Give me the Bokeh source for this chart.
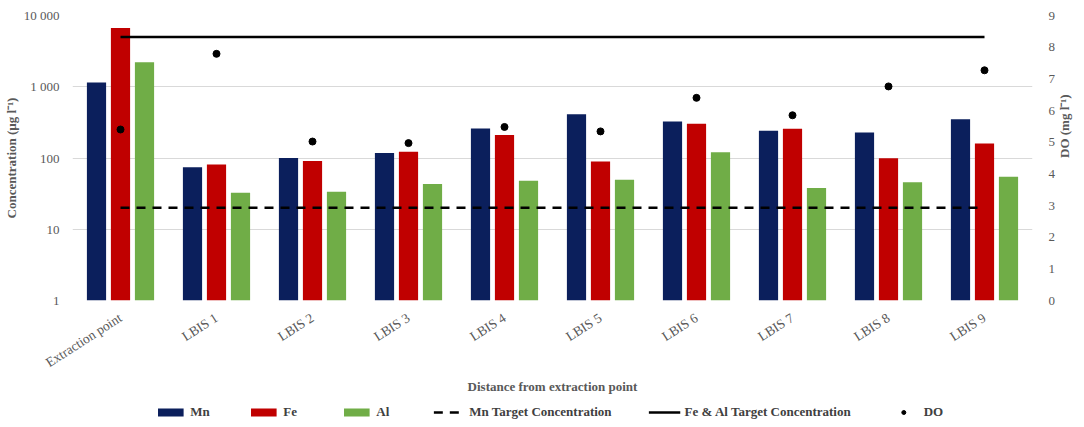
import math
from bokeh.plotting import figure
from bokeh.layouts import column
from bokeh.models import (FactorRange, Range1d, LinearAxis, FixedTicker, Legend,
                          LegendItem, ColumnDataSource, LinearScale)
from bokeh.transform import dodge
from bokeh.embed import file_html
from bokeh.resources import INLINE

categories = ["Extraction point", "LBIS 1", "LBIS 2", "LBIS 3", "LBIS 4",
              "LBIS 5", "LBIS 6", "LBIS 7", "LBIS 8", "LBIS 9"]
mn = [1150, 74, 100, 118, 259, 412, 325, 241, 228, 351]
fe = [6700, 81, 91, 122, 211, 89, 302, 257, 99, 160]
al = [2200, 32.5, 33.5, 43, 48, 49.5, 120, 38, 45.7, 54.5]
do_vals = [5.40, 7.79, 5.02, 4.97, 5.48, 5.34, 6.40, 5.85, 6.76, 7.27]
mn_target = 20
fe_al_target = 5000
conc_ticks = [1, 10, 100, 1000, 10000]
conc_tick_labels = ["1", "10", "100", "1 000", "10 000"]
do_ticks = [0, 1, 2, 3, 4, 5, 6, 7, 8, 9]
legend_labels = ["Mn", "Fe", "Al", "Mn Target Concentration",
                 "Fe & Al Target Concentration", "DO"]

FONT = "Liberation Serif"
GRAY = "#595959"
C_MN = "#0B1F5C"
C_FE = "#C00000"
C_AL = "#70AD47"
DASH = "9 7"

src = ColumnDataSource(dict(cat=categories, mn=mn, fe=fe, al=al, do=do_vals,
                            base=[1] * len(categories)))

p = figure(frame_width=960, frame_height=285, x_range=FactorRange(*categories),
           y_axis_type="log", y_range=Range1d(conc_ticks[0], conc_ticks[-1]),
           output_backend="svg", toolbar_location=None,
           min_border_left=60, min_border_right=30, min_border_top=15,
           min_border_bottom=10)
p.extra_y_ranges = {"do": Range1d(do_ticks[0], do_ticks[-1])}
p.extra_y_scales = {"do": LinearScale()}
p.outline_line_color = None
p.background_fill_color = "white"

p.vbar(x=dodge("cat", -0.25, range=p.x_range), top="mn", bottom="base",
       width=0.2, source=src, fill_color=C_MN, line_color=None)
p.vbar(x=dodge("cat", 0.0, range=p.x_range), top="fe", bottom="base",
       width=0.2, source=src, fill_color=C_FE, line_color=None)
p.vbar(x=dodge("cat", 0.25, range=p.x_range), top="al", bottom="base",
       width=0.2, source=src, fill_color=C_AL, line_color=None)

p.line(x=[categories[0], categories[-1]], y=[mn_target, mn_target],
       line_color="black", line_width=2.5, line_dash=DASH)
p.line(x=[categories[0], categories[-1]], y=[fe_al_target, fe_al_target],
       line_color="black", line_width=2.5)
p.scatter(x="cat", y="do", source=src, y_range_name="do", size=7,
          fill_color="black", line_color="black")

# left axis
ya = p.yaxis[0]
ya.ticker = FixedTicker(ticks=conc_ticks)
ya.major_label_overrides = {t: l for t, l in zip(conc_ticks, conc_tick_labels)}
ya.axis_label = "Concentration (µg l⁻¹)"

# right axis
ra = LinearAxis(y_range_name="do", ticker=FixedTicker(ticks=do_ticks),
                axis_label="DO (mg l⁻¹)")
p.add_layout(ra, "right")
ra.axis_label_orientation = math.pi / 2

xa = p.xaxis[0]
xa.axis_label = "Distance from extraction point"
xa.major_label_orientation = math.pi / 5.5

for ax in [ya, ra, xa]:
    ax.axis_line_color = None
    ax.major_tick_line_color = None
    ax.minor_tick_line_color = None
    ax.major_label_text_font = FONT
    ax.major_label_text_font_size = "13px"
    ax.major_label_text_color = GRAY
    ax.axis_label_text_font = FONT
    ax.axis_label_text_font_size = "13px"
    ax.axis_label_text_font_style = "bold"
    ax.axis_label_text_color = GRAY
xa.major_label_text_font_size = "13.5px"
ya.major_label_standoff = 7
ra.major_label_standoff = 10
xa.major_label_standoff = 10
xa.axis_label_standoff = 0
ya.axis_label_standoff = 2
ra.axis_label_standoff = 6

p.xgrid.grid_line_color = None
p.ygrid.grid_line_color = "#D9D9D9"
p.ygrid.grid_line_width = 1
p.ygrid.ticker = FixedTicker(ticks=conc_ticks)

# legend strip (separate small figure below the chart); its sample glyphs
# lie outside the strip's visible ranges, so only the legend shows
lg = figure(width=1076, height=30, x_range=Range1d(0, 1), y_range=Range1d(0, 1),
            output_backend="svg", toolbar_location=None, min_border=0)
lg.axis.visible = False
lg.grid.grid_line_color = None
lg.outline_line_color = None
off = ColumnDataSource(dict(x=[-10, -9], y=[-10, -10], top=[-10, -10], bottom=[-11, -11]))
l_mn = lg.vbar(x="x", top="top", bottom="bottom", width=0.1, source=off,
               fill_color=C_MN, line_color=None)
l_fe = lg.vbar(x="x", top="top", bottom="bottom", width=0.1, source=off,
               fill_color=C_FE, line_color=None)
l_al = lg.vbar(x="x", top="top", bottom="bottom", width=0.1, source=off,
               fill_color=C_AL, line_color=None)
l_mnt = lg.line(x="x", y="y", source=off, line_color="black", line_width=2.5,
                line_dash=DASH)
l_fet = lg.line(x="x", y="y", source=off, line_color="black", line_width=2.5)
l_do = lg.scatter(x="x", y="y", source=off, size=7, fill_color="black",
                  line_color="black")

legend = Legend(items=[LegendItem(label=lab, renderers=[r]) for lab, r in
                       zip(legend_labels, [l_mn, l_fe, l_al, l_mnt, l_fet, l_do])],
                orientation="horizontal", location="center")
legend.border_line_color = None
legend.background_fill_alpha = 0
legend.label_text_font = FONT
legend.label_text_font_size = "13px"
legend.label_text_font_style = "bold"
legend.label_text_color = "#404040"
legend.glyph_width = 32
legend.glyph_height = 10
legend.label_standoff = 4
legend.spacing = 37
legend.padding = 2
legend.margin = 0
lg.add_layout(legend, "center")

layout = column(p, lg, spacing=0)
open("out.html", "w").write(file_html(layout, INLINE))
